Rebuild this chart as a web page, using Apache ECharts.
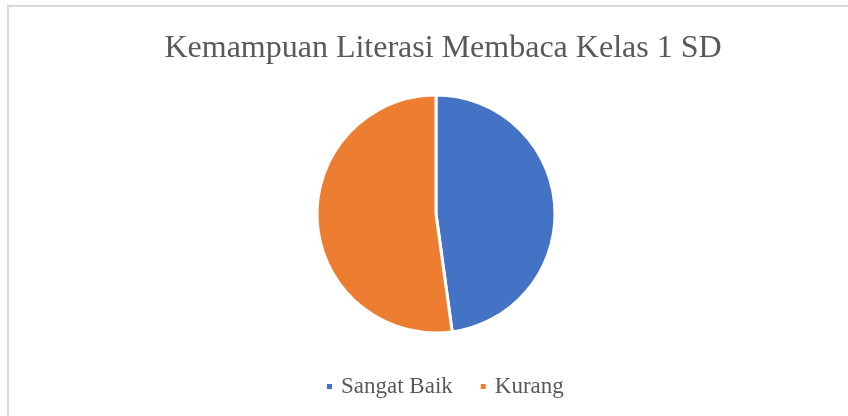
<!DOCTYPE html>
<html>
<head>
<meta charset="utf-8">
<script src="https://cdn.jsdelivr.net/npm/echarts@6/dist/echarts.min.js"></script>
<style>
  html, body { margin: 0; padding: 0; background: #fff; }
  #chart { width: 848px; height: 416px; }
</style>
</head>
<body>
<div id="chart"></div>
<script>
const categories = ["Sangat Baik", "Kurang"];
const values = [11, 12];
const colors = ["#4472C4", "#ED7D31"];

const chart = echarts.init(document.getElementById("chart"));
const textColor = "#595959";
const font = "'Liberation Serif', 'Times New Roman', serif";

const option = {
  animation: false,
  backgroundColor: "#fff",
  color: colors,
  graphic: [
    {
      type: "rect",
      shape: { x: 8, y: 6, width: 900, height: 500 },
      style: { fill: "none", stroke: "#d9d9d9", lineWidth: 2 },
      silent: true,
    },
  ],
  title: {
    text: "Kemampuan Literasi Membaca Kelas 1 SD",
    left: 438,
    textAlign: "center",
    top: 28,
    textStyle: {
      fontFamily: font,
      fontSize: 32,
      fontWeight: "normal",
      color: textColor,
    },
  },
  legend: {
    data: categories,
    left: 320,
    top: 370,
    icon: "rect",
    itemWidth: 7,
    itemHeight: 7,
    itemGap: 26,
    textStyle: {
      fontFamily: font,
      fontSize: 23,
      color: textColor,
      padding: [0, 0, 0, 3],
    },
  },
  series: [
    {
      type: "pie",
      center: [436, 214],
      radius: 119,
      startAngle: 90,
      clockwise: true,
      label: { show: false },
      labelLine: { show: false },
      itemStyle: { borderColor: "#fff", borderWidth: 3 },
      emphasis: { disabled: true },
      data: categories.map((name, i) => ({ name: name, value: values[i] })),
    },
  ],
};

chart.setOption(option);
</script>
</body>
</html>
